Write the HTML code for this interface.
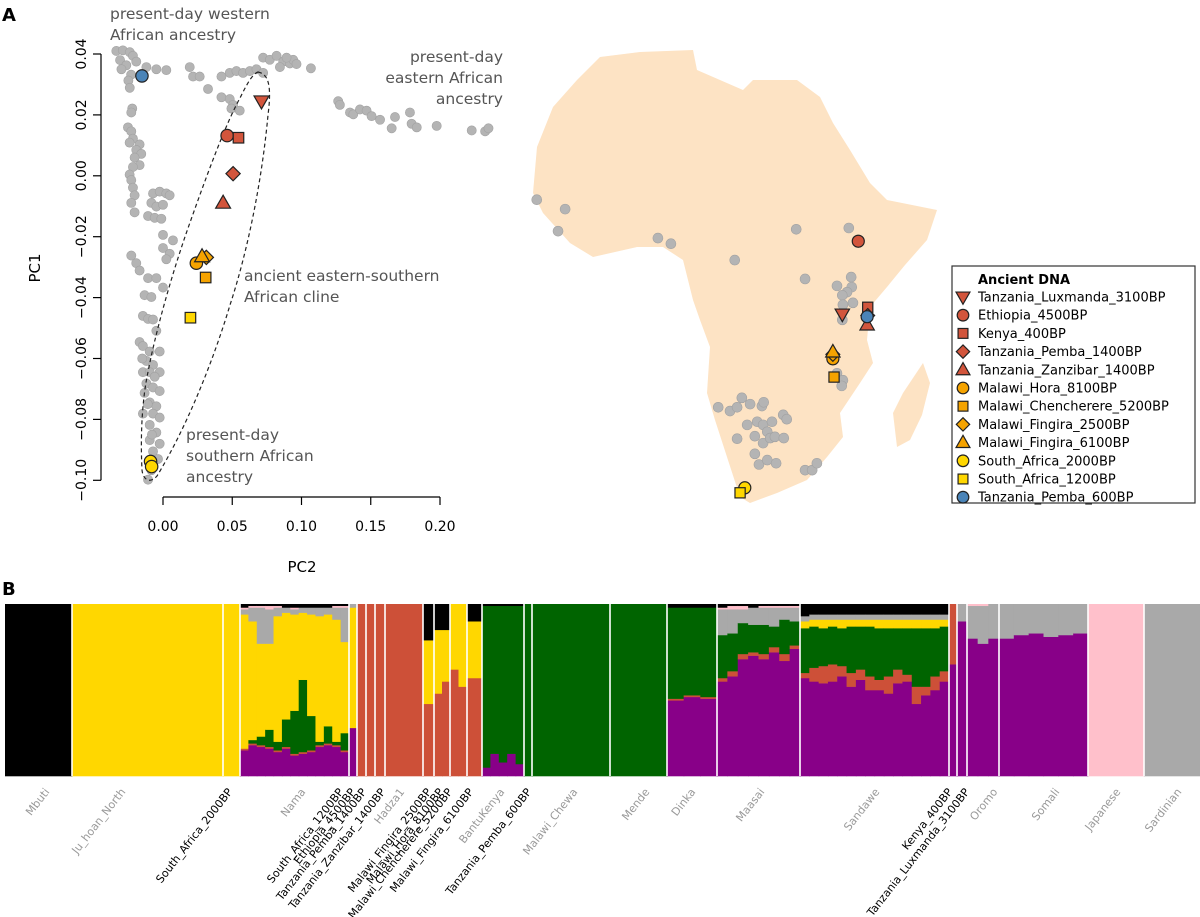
<!DOCTYPE html>
<html><head><meta charset="utf-8">
<style>
html,body{margin:0;padding:0;background:#fff;}
svg{display:block;font-family:"DejaVu Sans","Liberation Sans",sans-serif;}
</style></head>
<body>
<svg id="fig" width="1200" height="917" viewBox="0 0 1200 917" xmlns="http://www.w3.org/2000/svg">
  <text x="2" y="21" font-size="18" font-weight="bold">A</text>
  <text x="2" y="595" font-size="18" font-weight="bold">B</text>

  <g id="pca"></g>
  <g id="map">
    <path fill="#fde3c4" stroke="none"
      d="M600,57 L640,52 L693,50 L697,70 L720,80 L743,90 L753,80 L797,80 L820,97 L833,123 L850,150 L870,183 L887,200 L937,210 L927,240 L905,265 L887,287 L870,307 L867,340 L873,363 L860,383 L840,413 L843,437 L827,457 L807,480 L777,493 L750,503 L740,497 L727,457 L715,420 L707,393 L710,347 L700,320 L693,300 L683,260 L663,247 L637,247 L593,257 L570,243 L543,213 L533,193 L537,147 L553,107 L577,80 Z"/>
    <path fill="#fde3c4"
      d="M923,363 L930,383 L922,415 L910,440 L897,447 L893,413 L903,393 Z"/>
  </g>
  <g id="legend">
    <rect x="952" y="266" width="243" height="237" fill="#fff" stroke="#333" stroke-width="1.2"/>
    <text x="978" y="284" font-size="13" font-weight="bold">Ancient DNA</text>
  </g>
  <g id="admix"></g>
</svg>
<script>
// ---------- ancient samples ----------
const ancNames=["Tanzania_Luxmanda_3100BP","Ethiopia_4500BP","Kenya_400BP","Tanzania_Pemba_1400BP","Tanzania_Zanzibar_1400BP","Malawi_Hora_8100BP","Malawi_Chencherere_5200BP","Malawi_Fingira_2500BP","Malawi_Fingira_6100BP","South_Africa_2000BP","South_Africa_1200BP","Tanzania_Pemba_600BP"];
const ancShape=["tridown","circle","square","diamond","triup","circle","square","diamond","triup","circle","square","circle"];
const ancColor=["#d2553c","#d2553c","#d2553c","#d2553c","#d2553c","#f5a300","#f5a300","#f5a300","#f5a300","#ffd700","#ffd700","#4a84b8"];
const ancPC2=[0.0711,0.0463,0.0545,0.0506,0.0434,0.0241,0.0308,0.0313,0.0282,-0.0090,0.0198,-0.0152];
const ancPC1=[0.0245,0.0132,0.0125,0.0007,-0.0089,-0.0287,-0.0334,-0.0268,-0.0265,-0.0938,-0.0466,0.0328];
const ancLon=[35.0,37.7,39.3,39.3,39.2,33.4,33.6,33.4,33.4,18.5,17.7,39.2];
const ancLat=[-5.0,6.6,-3.9,-5.2,-6.7,-12.1,-15.0,-11.4,-11.0,-32.6,-33.4,-5.4];

// ---------- present-day PCA points ----------
const grayPC2=[-.0337,-.029,-.024,-.031,-.0217,-.0265,-.0193,-.030,-.023,-.025,-.024,
-.012,-.0048,.0024,.0193,.0217,.0265,.0325,.0422,.0482,.053,.0578,.0627,.0675,.0723,.0422,.0482,.0506,.0554,.0494,
.0723,.0771,.082,.0868,.0916,.094,.0964,.0844,.0892,.1068,
.1265,.1277,.135,.1374,.1422,.147,.1506,.1567,.1651,.1675,.1783,.1795,.1832,.1976,.2229,.2326,.235,
-.0222,-.0229,-.0253,-.0229,-.0217,-.0241,-.0169,-.0193,-.0157,-.0205,-.0169,-.0217,-.0241,-.0229,-.0217,-.0205,-.0229,-.0205,
-.0072,-.0024,.0024,.0048,-.0084,-.0048,0,-.0108,-.006,-.0012,0,.0072,0,.0048,.0024,-.0229,-.0193,-.0169,-.0108,-.0048,0,
-.0133,-.0084,-.0145,-.0108,-.0072,-.0048,-.0169,-.0145,-.0096,-.0024,-.012,-.0072,-.0145,-.0096,-.0024,-.012,-.0072,-.0024,
-.0133,-.0096,-.0048,-.0145,-.0072,-.0024,-.0096,-.0048,-.0096,-.0024,-.0072,-.0036,-.0084,-.0108,-.0150,-.0060,-.0110,-.0080];
const grayPC1=[.041,.0412,.0406,.038,.0394,.0363,.0375,.035,.0332,.0313,.0289,
.0357,.035,.0347,.0357,.0326,.0326,.0285,.0326,.0338,.0344,.0338,.0344,.035,.0338,.0258,.0252,.0233,.0214,.0221,
.0388,.0381,.0394,.0375,.0369,.0381,.0367,.0357,.0388,.0353,
.0245,.0233,.0208,.0202,.0218,.0214,.0196,.0184,.0156,.0193,.0208,.0171,.0159,.0164,.0149,.0146,.0156,
.0221,.0208,.0159,.0146,.0122,.0109,.0103,.0085,.0072,.006,.0035,.0029,.0004,-.0014,-.0039,-.0064,-.0089,-.012,
-.0058,-.0052,-.0058,-.0064,-.0089,-.0101,-.0095,-.0132,-.0138,-.0141,-.0194,-.0212,-.0237,-.0256,-.0274,-.0262,-.0287,-.0311,-.0336,-.0336,-.0367,
-.0392,-.0398,-.046,-.047,-.0472,-.0509,-.0546,-.0559,-.0577,-.0577,-.0608,-.0621,-.0645,-.0645,-.0645,-.0682,-.0695,-.0707,
-.0713,-.0744,-.0757,-.0781,-.0781,-.0794,-.0818,-.0843,-.0868,-.088,-.0905,-.093,-.0967,-.0998,-.0600,-.0660,-.0750,-.0850];
const pc1Ticks=[0.04,0.02,0.00,-0.02,-0.04,-0.06,-0.08,-0.10];
const pc2Ticks=[0.00,0.05,0.10,0.15,0.20];

// ---------- map present-day sample sites ----------
const siteLon=[-16.7,-11.9,-13.1,3.8,6.0,16.8,27.2,36.1,28.7,36.5,34.1,36.6,35.8,35.0,35.1,36.8,35.0,34.1,35.1,34.9,
14.0,16.0,17.2,18.0,19.4,21.4,21.7,25.0,25.6,18.9,20.6,21.6,23.1,22.3,20.2,17.2,21.6,22.8,23.6,25.1,20.2,20.9,22.3,23.8,28.7,29.9,30.7];
const siteLat=[13.2,11.7,8.2,7.1,6.2,3.6,8.5,8.7,0.6,0.9,-0.5,-0.7,-1.5,-2.0,-3.5,-3.2,-5.9,-14.4,-15.5,-16.4,
-19.8,-20.4,-19.8,-18.3,-19.3,-19.6,-19.0,-21.0,-21.7,-22.6,-22.1,-22.6,-22.1,-23.7,-24.4,-24.8,-25.5,-24.7,-24.5,-24.7,-27.2,-28.9,-28.2,-28.7,-29.8,-29.8,-28.7];

// ---------- admixture ----------
const groupNames=["Mbuti","Ju_hoan_North","South_Africa_2000BP","Nama","South_Africa_1200BP","Ethiopia_4500BP","Tanzania_Pemba_1400BP","Tanzania_Zanzibar_1400BP","Hadza1","Malawi_Fingira_2500BP","Malawi_Hora_8100BP","Malawi_Chencherere_5200BP","Malawi_Fingira_6100BP","BantuKenya","Tanzania_Pemba_600BP","Malawi_Chewa","Mende","Dinka","Maasai","Sandawe","Kenya_400BP","Tanzania_Luxmanda_3100BP","Oromo","Somali","Japanese","Sardinian"];
const groupN=[67,151,17,109,8,9,9,10,38,11,16,17,15,42,8,78,57,50,83,149,8,10,32,89,56,56];
const groupAncient=[0,0,1,0,1,1,1,1,0,1,1,1,1,0,1,0,0,0,0,0,1,1,0,0,0,0];
const labelX=[50,126,233,306,344,356,367,386,405,432,444,453,474,505,532,578,650,696,765,880,953,970,998,1060,1121,1182];
// component order: purple, red, green, yellow, gray, pink, black
const compColors=["#880088","#cd5038","#006400","#ffd700","#a9a9a9","#ffc0cb","#000000"];
const groupCols=[
 [[0,0,0,0,0,0,1]],
 [[0,0,0,1,0,0,0]],
 [[0,0,0,1,0,0,0]],
 [[.15,.01,0,.78,.03,.01,.02],[.18,.01,.02,.69,.08,.01,.01],[.17,.01,.05,.54,.21,.01,.01],[.16,.01,.1,.5,.2,.02,.01],[.14,.01,.05,.73,.05,.01,.01],[.16,.01,.16,.62,.03,0,.02],[.12,.01,.25,.56,.03,.01,.02],[.13,.01,.42,.39,.03,0,.02],[.14,.01,.2,.59,.04,0,.02],[.17,.01,.02,.73,.05,0,.02],[.18,.01,.1,.65,.04,0,.02],[.17,.01,.02,.71,.07,.01,.01],[.14,.01,.1,.53,.2,.01,.01]],
 [[.28,0,0,.7,.02,0,0]],
 [[0,1,0,0,0,0,0]],[[0,1,0,0,0,0,0]],[[0,1,0,0,0,0,0]],
 [[0,1,0,0,0,0,0]],
 [[0,.42,0,.37,0,0,.21]],
 [[0,.48,0,.37,0,0,.15],[0,.55,0,.3,0,0,.15]],
 [[0,.62,0,.38,0,0,0],[0,.52,0,.48,0,0,0]],
 [[0,.57,0,.33,0,0,.1]],
 [[.05,0,.94,0,0,0,.01],[.13,0,.86,0,0,0,.01],[.08,0,.91,0,0,0,.01],[.13,0,.86,0,0,0,.01],[.07,0,.92,0,0,0,.01]],
 [[0,0,1,0,0,0,0]],
 [[0,0,1,0,0,0,0]],
 [[0,0,1,0,0,0,0]],
 [[.44,.01,.53,0,0,0,.02],[.46,.01,.51,0,0,0,.02],[.45,.01,.52,0,0,0,.02]],
 [[.55,.02,.25,0,.15,.01,.02],[.58,.03,.22,0,.14,.02,.01],[.68,.03,.18,0,.08,.02,.01],[.7,.02,.16,0,.1,0,.02],[.68,.03,.17,0,.1,.01,.01],[.72,.03,.12,0,.11,.01,.01],[.67,.04,.2,0,.07,.01,.01],[.74,.02,.14,0,.08,.01,.01]],
 [[.57,.03,.26,.04,.03,0,.07],[.55,.08,.24,.04,.03,0,.06],[.54,.1,.22,.05,.03,0,.06],[.55,.1,.22,.04,.03,0,.06],[.58,.06,.22,.05,.03,0,.06],[.52,.08,.27,.04,.03,0,.06],[.56,.06,.25,.04,.03,0,.06],[.5,.08,.29,.04,.03,0,.06],[.5,.06,.3,.05,.03,0,.06],[.48,.1,.28,.05,.03,0,.06],[.54,.08,.24,.05,.03,0,.06],[.55,.04,.27,.05,.03,0,.06],[.42,.1,.34,.05,.03,0,.06],[.47,.05,.34,.05,.03,0,.06],[.5,.08,.28,.05,.03,0,.06],[.55,.06,.26,.04,.03,0,.06]],
 [[.65,.35,0,0,0,0,0]],
 [[.9,0,0,0,.1,0,0]],
 [[.8,0,0,0,.19,.01,0],[.77,0,0,0,.22,.01,0],[.8,0,0,0,.2,0,0]],
 [[.8,0,0,0,.2,0,0],[.82,0,0,0,.18,0,0],[.83,0,0,0,.17,0,0],[.81,0,0,0,.19,0,0],[.82,0,0,0,.18,0,0],[.83,0,0,0,.17,0,0]],
 [[0,0,0,0,0,1,0]],
 [[0,0,0,0,1,0,0]]
];

const NS="http://www.w3.org/2000/svg";
function mk(tag,attrs,parent){const e=document.createElementNS(NS,tag);for(const k in attrs)e.setAttribute(k,attrs[k]);parent.appendChild(e);return e;}

function marker(parent,shape,cx,cy,fill,r){
  let e;
  if(shape==="circle") e=mk("circle",{cx:cx,cy:cy,r:r,fill:fill,stroke:"#222","stroke-width":1.2},parent);
  else if(shape==="square") e=mk("rect",{x:cx-r*0.85,y:cy-r*0.85,width:r*1.7,height:r*1.7,fill:fill,stroke:"#222","stroke-width":1.2},parent);
  else if(shape==="diamond") e=mk("polygon",{points:`${cx},${cy-r*1.15} ${cx+r*1.15},${cy} ${cx},${cy+r*1.15} ${cx-r*1.15},${cy}`,fill:fill,stroke:"#222","stroke-width":1.2},parent);
  else if(shape==="triup") e=mk("polygon",{points:`${cx},${cy-r*1.25} ${cx+r*1.2},${cy+r*0.85} ${cx-r*1.2},${cy+r*0.85}`,fill:fill,stroke:"#222","stroke-width":1.2},parent);
  else e=mk("polygon",{points:`${cx},${cy+r*1.25} ${cx+r*1.2},${cy-r*0.85} ${cx-r*1.2},${cy-r*0.85}`,fill:fill,stroke:"#222","stroke-width":1.2},parent);
  return e;
}

// ---------- PCA ----------
const pca=document.getElementById("pca");
const px=v=>163+v*1385;
const py=v=>54+(0.04-v)*3045;
const yAxis=mk("line",{x1:101,x2:101,y1:py(0.04),y2:py(-0.10),stroke:"#000","stroke-width":1.2},pca);


pc1Ticks.forEach(t=>{
  const tk=mk("line",{x1:93,x2:101,y1:py(t),y2:py(t),stroke:"#000","stroke-width":1.2},pca);
  
  
  const tl=mk("text",{x:0,y:0,"font-size":14,"text-anchor":"middle",transform:`translate(86,${py(t)}) rotate(-90)`},pca);
  tl.textContent=t.toFixed(2).replace("-","\u2212");
  
  
});
const xAxis=mk("line",{x1:px(0),x2:px(0.2),y1:497,y2:497,stroke:"#000","stroke-width":1.2},pca);


pc2Ticks.forEach(t=>{
  const tk=mk("line",{x1:px(t),x2:px(t),y1:497,y2:505,stroke:"#000","stroke-width":1.2},pca);
  
  
  const tl=mk("text",{x:px(t),y:531,"font-size":14,"text-anchor":"middle"},pca);
  tl.textContent=t.toFixed(2);
  
  
});
const yt=mk("text",{x:0,y:0,"font-size":15,"text-anchor":"middle",transform:"translate(40,268) rotate(-90)"},pca);
yt.textContent="PC1";


const xt=mk("text",{x:302,y:572,"font-size":15,"text-anchor":"middle"},pca);
xt.textContent="PC2";



grayPC2.forEach((v,i)=>{
  const c=mk("circle",{cx:px(v),cy:py(grayPC1[i]),r:4.6,fill:"#b4b4b4",stroke:"#a2a2a2","stroke-width":0.6},pca);
  
  
});
const ell=mk("path",{d:"M258,72 C268,74 272,84 268,115 C262,180 248,250 230,305 C212,365 185,430 157,476 C150,484 143,480 142,470 C140,430 143,395 148,372 C155,335 170,280 187,231 C205,180 225,125 240,98 C246,86 252,74 258,72 Z",fill:"none",stroke:"#222","stroke-width":1.2,"stroke-dasharray":"4,3"},pca);


const ancOrder=[0,1,2,3,4,5,7,8,6,9,10,11];
ancOrder.forEach(i=>{
  const m=marker(pca,ancShape[i],px(ancPC2[i]),py(ancPC1[i]),ancColor[i],6.2);
  
  
});
const m2=marker(pca,"circle",px(-0.0082),py(-0.0955),"#ffd700",6.2);



function annot(lines,x,y0,anchor,name){
  const t=mk("text",{x:x,y:y0,"font-size":15.5,fill:"#555","text-anchor":anchor},pca);
  
  
  lines.forEach((l,i)=>{const s=mk("tspan",{x:x,dy:i?21:0},t);s.textContent=l;});
}
annot(["present-day western","African ancestry"],110,19,"start","annotation-western");
annot(["present-day","eastern African","ancestry"],503,62,"end","annotation-eastern");
annot(["ancient eastern-southern","African cline"],244,281,"start","annotation-cline");
annot(["present-day","southern African","ancestry"],186,440,"start","annotation-southern");

// ---------- map ----------
const map=document.getElementById("map");
const mx=lon=>535+(lon+17)*5.91;
const my=lat=>50+(37-lat)*6.29;
siteLon.forEach((v,i)=>{
  const c=mk("circle",{cx:mx(v),cy:my(siteLat[i]),r:5,fill:"#b4b4b4",stroke:"#a2a2a2","stroke-width":0.6},map);
  
  
});
const mapOrder=[5,7,8,6,1,0,2,3,4,11,9,10];
mapOrder.forEach(i=>{
  const m=marker(map,ancShape[i],mx(ancLon[i]),my(ancLat[i]),ancColor[i],6);
  
  
});

// ---------- legend ----------
const leg=document.getElementById("legend");
ancNames.forEach((n,i)=>{
  const y=297+i*18.2;
  const m=marker(leg,ancShape[i],963,y,ancColor[i],5.8);
  
  
  const t=mk("text",{x:978,y:y+4.5,"font-size":13},leg);
  t.textContent=n;
  
  
});

// ---------- admixture ----------
const ad=document.getElementById("admix");
const barTop=604, barH=172, barX0=5;
const total=groupN.reduce((a,b)=>a+b,0);
const sx=(1200-barX0)/total;
let cum=0;
groupNames.forEach((g,gi)=>{
  const gx=barX0+cum*sx, gw=groupN[gi]*sx;
  const cols=groupCols[gi];
  const cw=gw/cols.length;
  cols.forEach((col,ci)=>{
    let yb=barTop+barH;
    col.forEach((p,k)=>{
      if(p<=0)return;
      const h=p*barH;
      const r=mk("rect",{x:gx+ci*cw,y:yb-h,width:cw+0.6,height:h+0.3,fill:compColors[k]},ad);
      
      
      yb-=h;
    });
  });
  if(gi>0){
    const l=mk("rect",{x:gx-0.8,y:barTop,width:1.6,height:barH,fill:"#fff"},ad);
    
    
  }
  const t=mk("text",{x:0,y:0,"font-size":11,"text-anchor":"end",fill:groupAncient[gi]?"#000":"#999",transform:`translate(${labelX[gi]},792) rotate(-52)`},ad);
  t.textContent=g;
  
  
  cum+=groupN[gi];
});
</script>
</body></html>
